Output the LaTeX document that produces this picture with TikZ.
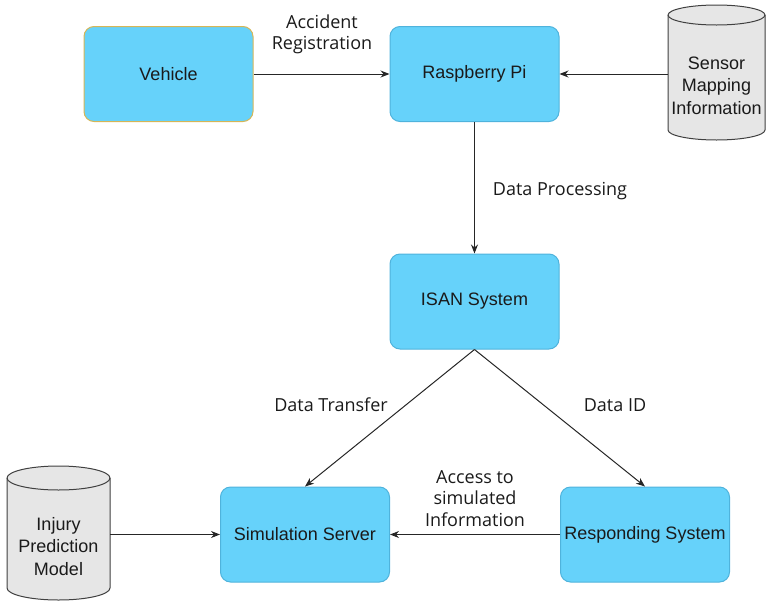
\documentclass[tikz,border=0pt]{standalone}
\usepackage{fontspec}
\setmainfont{Liberation Sans}
\newfontfamily\lblfont{Open Sans}
\usetikzlibrary{arrows.meta}
\definecolor{boxfill}{HTML}{66D2FA}
\definecolor{boxline}{HTML}{4FB3DC}
\definecolor{vehline}{HTML}{D6B656}
\definecolor{cylfill}{HTML}{E6E6E6}
\definecolor{cylline}{HTML}{404040}
\definecolor{txt}{HTML}{1A1A1A}
\begin{document}
\begin{tikzpicture}[x=1pt,y=-1pt,
  box/.style={draw=boxline, fill=boxfill, line width=1pt, rounded corners=10pt,
    minimum width=169pt, minimum height=95pt, inner sep=2pt,
    font=\fontsize{18}{22}\selectfont, text=txt},
  cyltext/.style={align=center, font=\fontsize{18}{22.5}\selectfont, text=txt},
  cyl/.style={draw=cylline, fill=cylfill, line width=1pt},
  lbl/.style={font=\lblfont\fontsize{18}{21.5}\selectfont, align=center, text=txt},
  conn/.style={draw=black!85, line width=1pt, -{Stealth[length=9pt,width=7pt]}}]
\useasboundingbox (0,0) rectangle (766,603);

% cylinders
\filldraw[cyl] (668,15) -- (668,130) arc[start angle=180, end angle=0, x radius=48.5, y radius=10]
  -- (765,15) arc[start angle=0, end angle=-180, x radius=48.5, y radius=10] -- cycle;
\draw[cyl, fill=none] (668,15) arc[start angle=180, end angle=0, x radius=48.5, y radius=10];
\node[minimum width=97pt, minimum height=135pt, inner sep=0pt] (sens) at (716.5,72.5) {};
\node[cyltext] (senst) at (716.5,85.5) {Sensor\\Mapping\\Information};

\filldraw[cyl] (7,478) -- (7,588) arc[start angle=180, end angle=0, x radius=51.5, y radius=12]
  -- (110,478) arc[start angle=0, end angle=-180, x radius=51.5, y radius=12] -- cycle;
\draw[cyl, fill=none] (7,478) arc[start angle=180, end angle=0, x radius=51.5, y radius=12];
\node[minimum width=103pt, minimum height=135pt, inner sep=0pt] (inj) at (58.5,532.5) {};
\node[cyltext] (injt) at (58.5,546.5) {Injury\\Prediction\\Model};

% boxes
\node[box, draw=vehline] (veh) at (168.5,74) {Vehicle};
\node[box] (rpi) at (474.5,74) {Raspberry Pi};
\node[box] (isan) at (474.5,301.5) {ISAN System};
\node[box] (sim) at (305,534.5) {Simulation Server};
\node[box] (resp) at (645,534.5) {Responding System};

% connectors
\draw[conn] (veh) -- (rpi);
\draw[conn] (sens.west |- rpi.east) -- (rpi.east);
\draw[conn] (rpi) -- (isan);
\draw[conn] (isan.south) -- (sim.north);
\draw[conn] (isan.south) -- (resp.north);
\draw[conn] (resp) -- (sim);
\draw[conn] (inj.east |- sim.west) -- (sim.west);

% labels
\node[lbl] (l1) at (322,34.5) {Accident\\Registration};
\node[lbl] (l2) at (560,191) {Data Processing};
\node[lbl] (l3) at (331,405) {Data Transfer};
\node[lbl] (l4) at (615,405) {Data ID};
\node[lbl] (l5) at (475,498.5) {Access to\\simulated\\Information};
\end{tikzpicture}
\end{document}
